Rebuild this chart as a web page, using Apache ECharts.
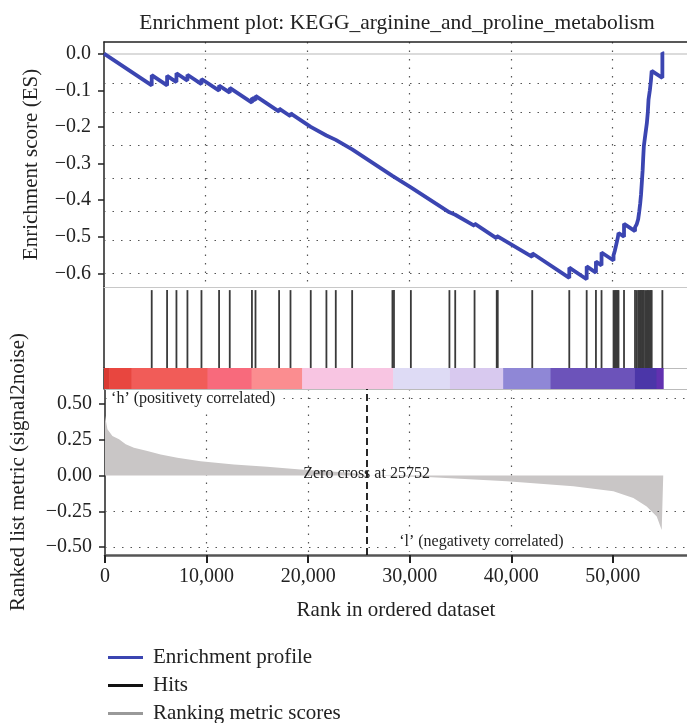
<!DOCTYPE html>
<html>
<head>
<meta charset="utf-8">
<script src="https://cdn.jsdelivr.net/npm/echarts@6/dist/echarts.min.js"></script>
<style>
  html, body { margin: 0; padding: 0; background: #fff; }
  #main { width: 687px; height: 723px; }
</style>
</head>
<body>
<div id="main"></div>
<script>
// 数据
var X_MAX = 57300
var ZERO_CROSS = 25752

// enrichment score: [rank, ES]
var esPoints = [
  [0, 0],
  [4690, -0.0868], [4690, -0.0588],
  [6200, -0.0867], [6200, -0.0607],
  [7120, -0.0777], [7120, -0.0537],
  [8200, -0.0737], [8200, -0.0577],
  [9580, -0.0832], [9580, -0.0692],
  [11310, -0.1012], [11310, -0.0872],
  [12360, -0.1066], [12360, -0.0936],
  [14540, -0.1339], [14540, -0.1209],
  [14890, -0.1274], [14890, -0.1154],
  [17210, -0.1583], [17210, -0.1503],
  [18330, -0.171], [18330, -0.163],
  [20320, -0.1998], [20320, -0.1948],
  [21860, -0.2233], [21860, -0.2183],
  [22780, -0.2353], [22780, -0.2313],
  [24390, -0.2611], [24390, -0.2601],
  [28350, -0.3334], [28350, -0.3324],
  [28500, -0.3352], [28500, -0.3342],
  [30160, -0.3649], [30160, -0.3629],
  [33950, -0.433], [33950, -0.429],
  [34520, -0.4395], [34520, -0.4345],
  [36420, -0.4697], [36420, -0.4637],
  [38600, -0.504], [38600, -0.497],
  [38700, -0.4989], [38700, -0.4919],
  [42090, -0.5546], [42090, -0.5446],
  [45730, -0.6119], [45730, -0.5839],
  [47440, -0.6155], [47440, -0.5805],
  [48350, -0.5973], [48350, -0.5673],
  [48900, -0.5775], [48900, -0.5425],
  [50080, -0.5643], [50080, -0.5503],
  [50200, -0.5525], [50200, -0.5385],
  [50300, -0.5404], [50300, -0.5264],
  [50400, -0.5283], [50400, -0.5143],
  [50500, -0.5161], [50500, -0.5021],
  [50570, -0.5034], [50570, -0.4894],
  [51110, -0.4994], [51110, -0.4644],
  [52190, -0.4844], [52190, -0.474],
  [52350, -0.477], [52350, -0.466],
  [52500, -0.469], [52500, -0.452],
  [52600, -0.454], [52600, -0.432],
  [52700, -0.434], [52700, -0.409],
  [52780, -0.41], [52780, -0.385],
  [52860, -0.387], [52860, -0.352],
  [52940, -0.353], [52940, -0.318],
  [53000, -0.319], [53000, -0.282],
  [53060, -0.283], [53060, -0.252],
  [53200, -0.255], [53200, -0.222],
  [53350, -0.225], [53350, -0.191],
  [53450, -0.193], [53450, -0.16],
  [53520, -0.161], [53520, -0.125],
  [53650, -0.127], [53650, -0.1],
  [53750, -0.102], [53750, -0.075],
  [53830, -0.076], [53830, -0.047],
  [54880, -0.066], [54880, 0.002],
  [55000, 0]
]

// hit positions (rank)
var hits = [
  4690, 6200, 7120, 8200, 9580, 11310, 12360, 14540, 14890, 17210, 18330,
  20320, 21860, 22780, 24390, 28350, 28500, 30160, 33950, 34520, 36420,
  38600, 38700, 42090, 45730, 47440, 48350, 48900,
  50080, 50200, 50300, 50400, 50500, 50570, 51110,
  52190, 52350, 52500, 52600, 52700, 52780, 52860, 52940, 53000, 53060,
  53200, 53350, 53450, 53520, 53650, 53750, 53830, 54880
]

// ranked list metric: [rank, value]
var metricPoints = [
  [0, 0.418], [240, 0.325], [730, 0.277], [1380, 0.254], [2040, 0.219],
  [2850, 0.195], [4170, 0.172], [5480, 0.148], [7120, 0.125], [9410, 0.101],
  [12690, 0.078], [15970, 0.061], [19240, 0.042], [24160, 0.019], [25752, 0],
  [31700, -0.01], [39570, -0.04], [46120, -0.075], [50050, -0.11],
  [52020, -0.157], [53330, -0.217], [54320, -0.287], [54810, -0.381], [54960, -0.39]
]

// heat bar segments
var barBreaks = [0, 500, 2700, 10170, 14500, 19470, 28420, 34000, 39230, 43890, 52180, 54300, 54960]
var barColors = ['#d93a33', '#e8463f', '#f15c58', '#f86a7c', '#fb8d90', '#f8c5e2',
  '#dedbf5', '#d8c9ef', '#8f87d6', '#6c53ba', '#4b36a8', '#6231b0']

// tick labels / grid
var esTicks = [0, -0.1, -0.2, -0.3, -0.4, -0.5, -0.6]
var esGrid = [-0.0774, -0.1636, -0.25, -0.3365, -0.4254, -0.5138, -0.6]
var metricTicks = [0.5, 0.25, 0, -0.25, -0.5]
var metricGrid = [0.536, -0.25, -0.5]
var rankTicks = [0, 10000, 20000, 30000, 40000, 50000]

var legendItems = [
  { name: 'Enrichment profile', color: '#3b45b1' },
  { name: 'Hits', color: '#111' },
  { name: 'Ranking metric scores', color: '#999' }
]

var FONT = 'Liberation Serif'
var dotted = { color: '#555', type: [1.5, 7], width: 1.2 }

function fmtNum (v, d) {
  return (v < 0 ? '\u2212' : '') + Math.abs(v).toFixed(d)
}

var myChart = echarts.init(document.getElementById('main'))

var barData = barColors.map(function (c, i) {
  return { value: [barBreaks[i], barBreaks[i + 1]], itemStyle: { color: c } }
})

function plainX (idx, pos, color) {
  return {
    type: 'value', gridIndex: idx, min: 0, max: X_MAX, position: pos,
    axisLine: { show: true, onZero: false, lineStyle: { color: color, width: 1.2 } },
    axisTick: { show: false }, axisLabel: { show: false }, splitLine: { show: false }
  }
}

// 每个图例单独一行
var legends = legendItems.map(function (it, i) {
  return {
    orient: 'vertical', left: 103, top: 642 + i * 28,
    itemWidth: 35, itemHeight: 3,
    textStyle: { fontFamily: FONT, fontSize: 21, color: '#222', padding: [0, 0, 0, 5] },
    data: [{ name: it.name, icon: 'rect', itemStyle: { color: it.color } }]
  }
})

var option = {
  animation: false,
  textStyle: { fontFamily: FONT },
  title: {
    text: 'Enrichment plot: KEGG_arginine_and_proline_metabolism',
    left: 392, top: 7, textAlign: 'center',
    textStyle: { fontFamily: FONT, fontSize: 21.5, fontWeight: 'normal', color: '#222' }
  },
  legend: legends,
  grid: [
    { left: 104, right: 0, top: 42, height: 245 },
    { left: 104, right: 0, top: 287, height: 81 },
    { left: 104, right: 0, top: 368, height: 21 },
    { left: 104, right: 0, top: 389, height: 166 }
  ],
  xAxis: [
    {
      type: 'value', gridIndex: 0, min: 0, max: X_MAX, interval: 10000, position: 'top',
      axisLine: { show: true, onZero: false, lineStyle: { color: '#222', width: 1.5 } },
      axisTick: { show: false }, axisLabel: { show: false },
      splitLine: { show: true, showMinLine: false, showMaxLine: false, lineStyle: dotted }
    },
    plainX(1, 'top', '#c8c8c8'),
    plainX(2, 'top', '#bbbbbb'),
    {
      type: 'value', gridIndex: 3, min: 0, max: X_MAX, interval: 10000, position: 'bottom',
      name: 'Rank in ordered dataset', nameLocation: 'middle', nameGap: 45,
      nameTextStyle: { fontFamily: FONT, fontSize: 21, color: '#222' },
      axisLine: { show: true, onZero: false, lineStyle: { color: '#555', width: 2.5 } },
      axisTick: { show: true, customValues: rankTicks, length: 8, lineStyle: { color: '#222', width: 2 } },
      axisLabel: {
        customValues: rankTicks, margin: 12, fontFamily: FONT, fontSize: 20, color: '#222',
        formatter: function (v) { return v.toLocaleString('en-US') }
      },
      splitLine: { show: true, showMinLine: false, showMaxLine: false, lineStyle: dotted }
    },
    plainX(3, 'top', '#bbbbbb')
  ],
  yAxis: [
    {
      type: 'value', gridIndex: 0, min: -0.6366, max: 0.0316,
      name: 'Enrichment score (ES)', nameLocation: 'middle', nameGap: 62,
      nameTextStyle: { fontFamily: FONT, fontSize: 21, color: '#222' },
      axisLine: { show: true, lineStyle: { color: '#222', width: 1.5 } },
      axisTick: { show: true, customValues: esTicks, length: 6, lineStyle: { color: '#222', width: 1.5 } },
      axisLabel: {
        customValues: esTicks, margin: 13, fontFamily: FONT, fontSize: 20, color: '#222',
        formatter: function (v) { return fmtNum(v, 1) }
      },
      splitLine: { show: false }
    },
    {
      type: 'value', gridIndex: 1, min: 0, max: 1.04,
      axisLine: { show: true, lineStyle: { color: '#222', width: 1.5 } },
      axisTick: { show: false }, axisLabel: { show: false }, splitLine: { show: false }
    },
    {
      type: 'value', gridIndex: 2, min: 0, max: 1,
      axisLine: { show: true, lineStyle: { color: '#222', width: 1.5 } },
      axisTick: { show: false }, axisLabel: { show: false }, splitLine: { show: false }
    },
    {
      type: 'value', gridIndex: 3, min: -0.556, max: 0.606,
      name: 'Ranked list metric (signal2noise)', nameLocation: 'middle', nameGap: 76,
      nameTextStyle: { fontFamily: FONT, fontSize: 21, color: '#222' },
      axisLine: { show: true, lineStyle: { color: '#222', width: 1.5 } },
      axisTick: { show: true, customValues: metricTicks, length: 6, lineStyle: { color: '#222', width: 1.5 } },
      axisLabel: {
        customValues: metricTicks, margin: 13, fontFamily: FONT, fontSize: 20, color: '#222',
        formatter: function (v) { return fmtNum(v, 2) }
      },
      splitLine: { show: false }
    }
  ],
  series: [
    {
      name: 'Ranking metric scores',
      type: 'line', xAxisIndex: 3, yAxisIndex: 3,
      data: metricPoints, symbol: 'none',
      lineStyle: { width: 0, color: '#c9c6c6' },
      itemStyle: { color: '#999' },
      areaStyle: { color: '#c9c6c6', opacity: 1 },
      markLine: {
        silent: true, symbol: 'none', label: { show: false },
        data: metricGrid.map(function (v) { return { yAxis: v, lineStyle: dotted } })
          .concat([{ xAxis: ZERO_CROSS, lineStyle: { color: '#111', type: [7, 4], width: 1.8 } }])
      },
      markPoint: {
        silent: true, symbol: 'circle', symbolSize: 0,
        data: [
          {
            coord: [300, 0.536],
            label: {
              show: true, position: 'right', distance: 0, formatter: '\u2018h\u2019 (positivety correlated)',
              fontFamily: FONT, fontSize: 16, color: '#222', backgroundColor: '#fff', padding: [1, 3]
            }
          },
          {
            coord: [ZERO_CROSS, 0.01],
            label: {
              show: true, position: 'inside', formatter: 'Zero cross at ' + ZERO_CROSS,
              fontFamily: FONT, fontSize: 16, color: '#222'
            }
          },
          {
            coord: [37050, -0.466],
            label: {
              show: true, position: 'inside', formatter: '\u2018l\u2019 (negativety correlated)',
              fontFamily: FONT, fontSize: 16, color: '#222', backgroundColor: '#fff', padding: [1, 3]
            }
          }
        ]
      }
    },
    {
      type: 'custom', xAxisIndex: 2, yAxisIndex: 2,
      data: barData, silent: true,
      encode: { x: [0, 1] },
      renderItem: function (params, api) {
        var p0 = api.coord([api.value(0), 1])
        var p1 = api.coord([api.value(1), 0])
        return {
          type: 'rect',
          shape: { x: p0[0], y: p0[1], width: p1[0] - p0[0] + 0.5, height: p1[1] - p0[1] },
          style: { fill: api.visual('color') }
        }
      }
    },
    {
      name: 'Hits',
      type: 'custom', xAxisIndex: 1, yAxisIndex: 1,
      data: hits.map(function (r) { return [r, 1] }), silent: true,
      itemStyle: { color: '#111' },
      encode: { x: 0, y: 1 },
      renderItem: function (params, api) {
        var top = api.coord([api.value(0), 1])
        var bottom = api.coord([api.value(0), 0])
        return {
          type: 'line',
          shape: { x1: top[0], y1: top[1], x2: bottom[0], y2: bottom[1] },
          style: { stroke: '#3a3a3a', lineWidth: 1.8 }
        }
      }
    },
    {
      name: 'Enrichment profile',
      type: 'line', xAxisIndex: 0, yAxisIndex: 0,
      data: esPoints, symbol: 'none',
      lineStyle: { color: '#3b45b1', width: 3.8 },
      itemStyle: { color: '#3b45b1' },
      z: 5,
      markLine: {
        silent: true, symbol: 'none', label: { show: false },
        data: esGrid.map(function (v) { return { yAxis: v, lineStyle: dotted } })
          .concat([{ yAxis: 0, lineStyle: { color: '#cfcfcf', type: 'solid', width: 1.5 } }])
      }
    }
  ]
}

myChart.setOption(option)
</script>
</body>
</html>
